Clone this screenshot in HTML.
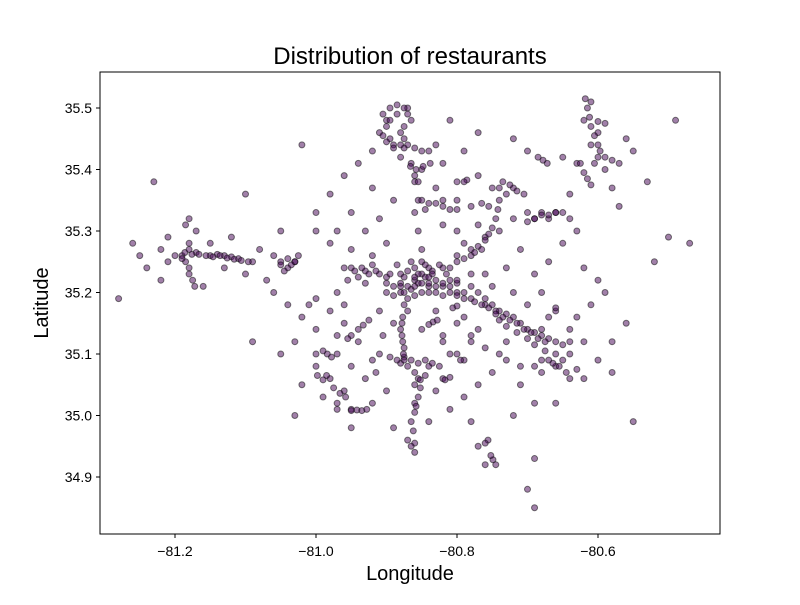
<!DOCTYPE html>
<html><head><meta charset="utf-8"><style>
body{margin:0;background:#fff;}
svg text{font-family:"Liberation Sans",Arial,sans-serif;fill:#000;}
</style></head><body>
<svg id="chart" width="800" height="600" xmlns="http://www.w3.org/2000/svg">
<rect width="800" height="600" fill="#fff"/>
<text x="410" y="64" font-size="24" text-anchor="middle">Distribution of restaurants</text>
<text x="410" y="580" font-size="20" text-anchor="middle">Longitude</text>
<text transform="translate(48,303) rotate(-90)" font-size="20" text-anchor="middle">Latitude</text>
<g id="points"></g>
<g id="axes"></g>
<rect x="100" y="72" width="620" height="462" fill="none" stroke="#000" stroke-width="1"/>
</svg>
<script>
const xTicks=[-81.2,-81.0,-80.8,-80.6];
const xTickLabels=["\u221281.2","\u221281.0","\u221280.8","\u221280.6"];
const yTicks=[34.9,35.0,35.1,35.2,35.3,35.4,35.5];
const yTickLabels=["34.9","35.0","35.1","35.2","35.3","35.4","35.5"];
const lon=[-80.86,-80.85,-80.84,-80.87,-80.85,-80.83,-80.88,-80.86,-80.84,-80.82,-80.87,-80.89,-80.85,-80.83,-80.81,-80.855,-80.845,-80.865,-80.835,
-80.95,-80.93,-80.91,-80.90,-80.80,-80.78,-80.76,-80.74,-80.72,-80.70,-80.68,-80.66,-80.71,-80.69,-80.73,-80.67,
-80.82,-80.80,-80.78,-80.76,-80.74,-80.72,-80.70,-80.68,-80.66,
-80.85,-80.855,-80.86,-80.855,-80.86,-80.865,-80.87,-80.875,-80.87,
-80.90,-80.91,-80.89,-80.92,-80.88,-80.84,-80.83,-80.82,-80.85,-80.80,-80.905,-80.895,
-80.87,-80.88,-80.875,-80.87,-80.86,-80.86,-80.865,-80.87,-80.86,-80.875,-80.88,
-80.96,-80.94,-80.97,-80.95,-81.00,-80.98,-80.96,-80.93,-80.99,-80.97,-80.95,-81.02,
-80.97,-81.00,-81.03,-81.05,-81.06,-81.04,
-81.19,-81.17,-81.15,-81.13,-81.11,-81.09,-81.18,-81.17,-81.18,-81.16,-81.14,-81.12,
-80.61,-80.62,-80.60,-80.61,-80.60,-80.59,-80.63,-80.65,-80.58,-80.56,
-80.75,-80.73,-80.77,-80.69,-80.67,-80.64,-80.78,-80.80,-80.82,-80.74,
-80.68,-80.66,-80.64,-80.66,-80.62,-80.68,-80.71,-80.74,-80.78,-80.80,-80.82,-80.79,-80.84,-80.82,-80.65,
-80.77,-80.76,-80.70,-80.69,-80.78,-80.81,-80.72,
-80.93,-80.95,-80.98,-81.00,-80.92,-80.90,
-81.28,-81.23,-81.26,-81.22,-81.10,-81.09,-81.05,-81.03,-81.02,-80.50,-80.47,-80.49,-80.52,-80.55,-80.58,-80.53,-80.95,-80.69];
const lat=[35.22,35.23,35.21,35.21,35.20,35.22,35.23,35.24,35.24,35.21,35.19,35.21,35.25,35.20,35.22,35.215,35.225,35.205,35.235,
35.24,35.235,35.23,35.225,35.20,35.19,35.18,35.17,35.16,35.14,35.13,35.12,35.15,35.135,35.165,35.125,
35.24,35.26,35.27,35.29,35.30,35.32,35.33,35.33,35.33,
35.27,35.30,35.33,35.35,35.38,35.41,35.44,35.47,35.50,
35.48,35.46,35.44,35.43,35.42,35.43,35.44,35.41,35.40,35.38,35.49,35.45,
35.17,35.14,35.11,35.08,35.05,35.02,34.99,34.96,34.94,35.095,35.085,
35.15,35.12,35.10,35.08,35.10,35.06,35.04,35.06,35.03,35.01,35.01,35.05,
35.20,35.19,35.25,35.25,35.26,35.24,
35.26,35.265,35.26,35.26,35.255,35.25,35.28,35.30,35.23,35.21,35.262,35.258,
35.51,35.48,35.46,35.44,35.42,35.40,35.41,35.42,35.37,35.45,
35.37,35.36,35.39,35.32,35.32,35.32,35.34,35.35,35.35,35.37,
35.20,35.17,35.10,35.08,35.06,35.07,35.05,35.10,35.12,35.15,35.13,35.09,35.08,35.06,35.09,
34.95,34.92,34.88,34.85,34.99,35.01,35.00,
35.30,35.33,35.28,35.30,35.26,35.28,
35.19,35.38,35.28,35.22,35.36,35.12,35.10,35.00,35.44,35.29,35.28,35.48,35.25,34.99,35.12,35.38,34.98,34.93];
const extraPoints=[
[-80.90,35.20],[-80.89,35.195],[-80.88,35.20],[-80.86,35.195],[-80.84,35.20],[-80.82,35.195],[-80.81,35.21],
[-80.90,35.215],[-80.88,35.215],[-80.86,35.21],[-80.84,35.215],[-80.82,35.215],[-80.80,35.215],
[-80.895,35.23],[-80.875,35.225],[-80.855,35.23],[-80.835,35.23],[-80.815,35.23],
[-80.885,35.245],[-80.865,35.25],[-80.845,35.245],[-80.825,35.245],[-80.87,35.235],[-80.85,35.215],[-80.86,35.225],[-80.84,35.225],[-80.88,35.21],[-80.83,35.21],
[-80.96,35.24],[-80.945,35.235],[-80.935,35.24],[-80.925,35.23],[-80.915,35.235],[-80.94,35.225],[-80.955,35.22],[-80.93,35.215],[-80.92,35.245],
[-80.81,35.20],[-80.80,35.195],[-80.79,35.19],[-80.775,35.185],[-80.765,35.18],[-80.755,35.175],[-80.745,35.17],[-80.735,35.16],[-80.725,35.155],[-80.715,35.15],[-80.705,35.14],[-80.695,35.135],[-80.685,35.125],[-80.675,35.12],[-80.70,35.125],[-80.69,35.115],[-80.715,35.135],[-80.68,35.14],
[-80.79,35.20],[-80.78,35.21],[-80.77,35.20],[-80.76,35.19],[-80.75,35.18],[-80.745,35.165],[-80.74,35.155],[-80.73,35.145],
[-80.875,35.20],[-80.875,35.18],[-80.877,35.16],[-80.878,35.15],[-80.878,35.13],[-80.877,35.12],[-80.876,35.10],[-80.875,35.09],[-80.885,35.09],[-80.865,35.09],[-80.855,35.085],[-80.845,35.09],[-80.835,35.085],[-80.825,35.08],[-80.895,35.095],[-80.86,35.07],[-80.855,35.06],[-80.852,35.045],[-80.855,35.03],[-80.858,35.015],[-80.86,35.005],[-80.862,34.975],[-80.86,34.955],[-80.865,34.95],
[-80.81,35.24],[-80.80,35.25],[-80.79,35.255],[-80.78,35.26],[-80.77,35.275],[-80.76,35.285],[-80.755,35.295],[-80.75,35.305],[-80.745,35.32],[-80.742,35.335],[-80.74,35.35],[-80.765,35.27],[-80.775,35.265],
[-80.68,35.326],[-80.67,35.326],[-80.66,35.33],[-80.65,35.33],[-80.69,35.32],[-80.70,35.315],
[-80.895,35.50],[-80.885,35.505],[-80.875,35.50],[-80.87,35.49],[-80.865,35.48],[-80.885,35.49],[-80.895,35.48],[-80.90,35.47],[-80.905,35.455],[-80.90,35.445],[-80.89,35.435],[-80.875,35.435],[-80.86,35.435],[-80.85,35.43],[-80.88,35.46],[-80.875,35.45],[-80.88,35.44],
[-80.866,35.405],[-80.858,35.40],[-80.848,35.405],[-80.838,35.41],[-80.86,35.39],[-80.855,35.38],
[-80.85,35.35],[-80.84,35.345],[-80.83,35.345],[-80.82,35.34],[-80.81,35.335],[-80.80,35.335],[-80.845,35.335],
[-80.966,35.036],[-80.975,35.045],[-80.958,35.03],[-80.97,35.02],[-80.942,35.009],[-80.95,35.008],[-80.935,35.008],[-80.928,35.01],[-80.99,35.058],[-80.998,35.065],[-80.985,35.065],[-80.933,35.147],[-80.94,35.14],[-80.95,35.13],[-80.925,35.155],[-80.955,35.125],[-80.984,35.10],[-80.99,35.105],[-80.978,35.095],[-80.91,35.10],[-80.92,35.09],[-80.905,35.13],[-80.97,35.13],[-80.915,35.07],
[-80.834,35.152],[-80.828,35.155],[-80.84,35.148],[-80.806,35.175],[-80.80,35.178],[-80.852,35.058],[-80.817,35.058],[-80.81,35.062],[-80.845,35.065],[-80.80,35.10],[-80.795,35.09],[-80.78,35.13],[-80.82,35.12],
[-80.749,34.928],[-80.745,34.92],[-80.752,34.935],[-80.756,34.96],[-80.76,34.955],
[-80.664,35.085],[-80.655,35.08],[-80.67,35.09],[-80.645,35.07],[-80.64,35.06],[-80.68,35.09],[-80.63,35.075],[-80.66,35.10],[-80.69,35.08],[-80.675,35.105],[-80.65,35.115],[-80.64,35.12],[-80.64,35.14],[-80.67,35.16],[-80.66,35.175],
[-81.186,35.265],[-81.176,35.262],[-81.166,35.262],[-81.156,35.26],[-81.146,35.258],[-81.136,35.26],[-81.126,35.256],[-81.116,35.254],[-81.106,35.252],[-81.096,35.25],[-81.18,35.27],[-81.185,35.25],[-81.18,35.24],[-81.175,35.22],[-81.172,35.21],[-81.185,35.31],[-81.18,35.32],[-81.19,35.255],[-81.20,35.26],[-81.21,35.25],
[-81.03,35.25],[-81.035,35.245],[-81.025,35.26],[-81.04,35.255],[-81.05,35.245],[-81.045,35.235],
[-80.618,35.515],[-80.615,35.50],[-80.612,35.485],[-80.61,35.47],[-80.605,35.455],[-80.60,35.44],[-80.597,35.43],[-80.59,35.42],[-80.58,35.415],[-80.57,35.41],[-80.60,35.478],[-80.59,35.475],[-80.625,35.41],[-80.62,35.395],[-80.615,35.385],[-80.61,35.375],[-80.64,35.36],[-80.605,35.41],
[-80.72,35.37],[-80.725,35.375],[-80.715,35.365],[-80.705,35.36],[-80.735,35.38],[-80.678,35.415],[-80.672,35.41],[-80.685,35.42],[-80.786,35.383],[-80.79,35.38],[-80.755,35.34],[-80.765,35.345],
[-81.25,35.26],[-81.22,35.27],[-81.24,35.24],[-81.21,35.29],[-81.15,35.28],[-81.13,35.24],[-81.12,35.29],[-81.10,35.23],[-81.08,35.27],[-81.07,35.22],[-81.06,35.20],[-81.04,35.18],[-81.02,35.16],[-81.00,35.14],[-81.05,35.30],[-81.00,35.33],[-80.98,35.36],[-80.96,35.39],[-80.94,35.41],[-80.92,35.37],[-80.95,35.27],[-80.97,35.30],[-80.91,35.32],[-80.89,35.35],[-80.83,35.37],[-80.82,35.31],[-80.80,35.30],[-80.79,35.28],[-80.77,35.31],[-80.76,35.23],[-80.73,35.24],[-80.71,35.27],[-80.69,35.23],[-80.67,35.25],[-80.65,35.28],[-80.63,35.30],[-80.62,35.24],[-80.60,35.22],[-80.61,35.18],[-80.63,35.16],[-80.60,35.09],[-80.58,35.07],[-80.56,35.15],[-80.57,35.34],[-80.55,35.43],[-80.70,35.43],[-80.72,35.45],[-80.77,35.46],[-80.79,35.43],[-80.81,35.48],[-80.80,35.22],[-80.78,35.23],[-80.75,35.21],[-80.72,35.20],[-80.70,35.18],[-80.73,35.12],[-80.76,35.11],[-80.75,35.07],[-80.77,35.05],[-80.79,35.03],[-80.81,35.10],[-80.83,35.04],[-80.84,34.99],[-80.89,34.98],[-80.90,35.04],[-80.92,35.02],[-81.00,35.08],[-81.03,35.12],[-81.01,35.18],[-80.98,35.17],[-80.96,35.18],[-80.89,35.15],[-80.91,35.17],[-80.85,35.14],[-80.83,35.17],[-80.79,35.16],[-80.77,35.14],[-80.73,35.09],[-80.71,35.08],[-80.69,35.02],[-80.66,35.02],[-80.62,35.12],[-80.59,35.20]
];
const X0=175,XS=705,Y0=108,YS=615;
function xScale(v){return X0+(v+81.2)*XS;}
function yScale(v){return Y0+(35.5-v)*YS;}
const NS="http://www.w3.org/2000/svg";
const pg=document.getElementById('points');
const allLon=lon.concat(extraPoints.map(p=>p[0]));
const allLat=lat.concat(extraPoints.map(p=>p[1]));
for(let i=0;i<allLon.length;i++){
  const c=document.createElementNS(NS,'circle');
  c.setAttribute('cx',xScale(allLon[i]));
  c.setAttribute('cy',yScale(allLat[i]));
  c.setAttribute('r',3);
  c.setAttribute('fill','rgba(68,1,84,0.5)');
  c.setAttribute('stroke','rgba(0,0,0,0.5)');
  c.setAttribute('stroke-width','1');
  
  
  pg.appendChild(c);
}
const ax=document.getElementById('axes');
xTicks.forEach((t,i)=>{
  const x=xScale(t);
  const l=document.createElementNS(NS,'line');
  l.setAttribute('x1',x);l.setAttribute('x2',x);l.setAttribute('y1',534);l.setAttribute('y2',538);
  l.setAttribute('stroke','#000');
  
  
  ax.appendChild(l);
  const tx=document.createElementNS(NS,'text');
  tx.setAttribute('x',x);tx.setAttribute('y',556);tx.setAttribute('font-size','14');tx.setAttribute('text-anchor','middle');
  tx.textContent=xTickLabels[i];
  
  
  ax.appendChild(tx);
});
yTicks.forEach((t,i)=>{
  const y=yScale(t);
  const l=document.createElementNS(NS,'line');
  l.setAttribute('x1',96);l.setAttribute('x2',100);l.setAttribute('y1',y);l.setAttribute('y2',y);
  l.setAttribute('stroke','#000');
  
  
  ax.appendChild(l);
  const tx=document.createElementNS(NS,'text');
  tx.setAttribute('x',92);tx.setAttribute('y',y+5);tx.setAttribute('font-size','14');tx.setAttribute('text-anchor','end');
  tx.textContent=yTickLabels[i];
  
  
  ax.appendChild(tx);
});
</script>
</body></html>
